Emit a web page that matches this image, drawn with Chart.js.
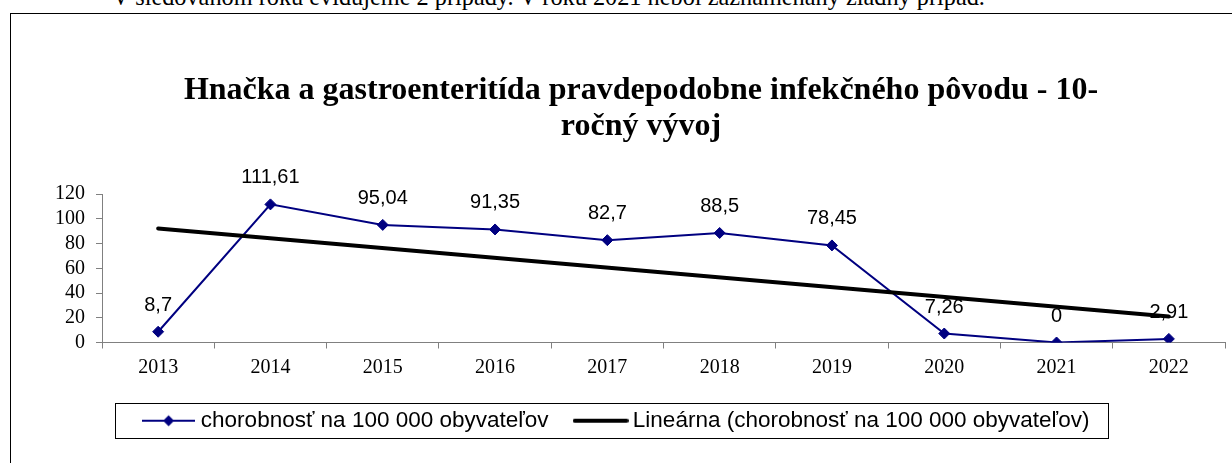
<!DOCTYPE html>
<html>
<head>
<meta charset="utf-8">
<script src="https://cdn.jsdelivr.net/npm/chart.js@4"></script>
<style>
  html, body { margin: 0; padding: 0; background: #fff; overflow: hidden; }
  #wrap { position: relative; width: 1232px; height: 463px; overflow: hidden; }
  #note { position: absolute; left: 112px; top: -15px; white-space: nowrap;
          font: 24.3px "Liberation Serif", "Times New Roman", serif; line-height: 24px; color: #000; }
  #frame { position: absolute; left: 10px; top: 13px; width: 1300px; height: 520px; border: 1px solid #000; }
  #chart { position: absolute; left: 0; top: 0; }
</style>
</head>
<body>
<div id="wrap">
  <div id="note">V sledovanom roku evidujeme 2 prípady. V roku 2021 nebol zaznamenaný žiadny prípad.</div>
  <div id="frame"></div>
  <canvas id="chart" width="1232" height="463"></canvas>
</div>
<script>
// ===============================
//  DATA
// ===============================
const years = ["2013", "2014", "2015", "2016", "2017", "2018", "2019", "2020", "2021", "2022"];
const incidence = [8.7, 111.61, 95.04, 91.35, 82.7, 88.5, 78.45, 7.26, 0, 2.91];
// trend line: only its two ends
const trendLine = [92.2, null, null, null, null, null, null, null, null, 21.1];
const yMin = 0, yMax = 120, yStep = 20;
const titleLines = ["Hnačka a gastroenteritída pravdepodobne infekčného pôvodu - 10-", "ročný vývoj"];
const seriesName = "chorobnosť na 100 000 obyvateľov";
const trendName = "Lineárna (chorobnosť na 100 000 obyvateľov)";

const NAVY = "#000080";

// ===============================
//  LEGEND ICONS
// ===============================
function seriesIcon() {
  const c = document.createElement("canvas");
  c.width = 53; c.height = 14;
  const g = c.getContext("2d");
  g.strokeStyle = NAVY; g.lineWidth = 2;
  g.beginPath(); g.moveTo(0, 7); g.lineTo(53, 7); g.stroke();
  g.fillStyle = NAVY;
  g.beginPath(); g.moveTo(26.5, 1.5); g.lineTo(32, 7); g.lineTo(26.5, 12.5); g.lineTo(21, 7); g.closePath(); g.fill();
  return c;
}
function trendIcon() {
  const c = document.createElement("canvas");
  c.width = 56; c.height = 8;
  const g = c.getContext("2d");
  g.strokeStyle = "#000"; g.lineWidth = 4; g.lineCap = "round";
  g.beginPath(); g.moveTo(2, 4); g.lineTo(54, 4); g.stroke();
  return c;
}

// ===============================
//  PLUGINS
// ===============================
const titlePlugin = {
  id: "titleLines",
  afterDraw(chart) {
    const ctx = chart.ctx;
    ctx.save();
    ctx.fillStyle = "#000";
    ctx.font = "bold 32px 'Liberation Serif', 'Times New Roman', serif";
    ctx.textAlign = "center";
    ctx.textBaseline = "alphabetic";
    ctx.fillText(titleLines[0], 641, 99);
    ctx.fillText(titleLines[1], 641, 135);
    ctx.restore();
  }
};

const valueLabels = {
  id: "valueLabels",
  afterDatasetDraw(chart, args) {
    if (args.index !== 0) return;
    const ctx = chart.ctx;
    ctx.save();
    ctx.fillStyle = "#000";
    ctx.font = "20px 'Liberation Sans', Arial, sans-serif";
    ctx.textAlign = "center";
    ctx.textBaseline = "alphabetic";
    args.meta.data.forEach((pt, i) => {
      ctx.fillText(String(incidence[i]).replace(".", ","), pt.x, pt.y - 21);
    });
    ctx.restore();
  }
};

const legendFrame = {
  id: "legendFrame",
  afterDraw(chart) {
    const hb = chart.legend.legendHitBoxes;
    if (!hb || !hb.length) return;
    const last = hb[hb.length - 1];
    const left = Math.round(hb[0].left - 32.5);
    const right = Math.round(last.left + last.width + 19);
    const cy = Math.round(hb[0].top + hb[0].height / 2);
    const ctx = chart.ctx;
    ctx.save();
    ctx.strokeStyle = "#000";
    ctx.lineWidth = 1;
    ctx.strokeRect(left + 0.5, cy - 17.5, right - left, 35);
    ctx.restore();
  }
};

// ===============================
//  CHART
// ===============================
new Chart(document.getElementById("chart"), {
  type: "line",
  data: {
    labels: years,
    datasets: [{
      label: seriesName,
      data: incidence,
      borderColor: NAVY,
      backgroundColor: NAVY,
      borderWidth: 2,
      pointStyle: "rectRot",
      pointRadius: 5.5,
      pointBorderWidth: 1,
      tension: 0,
      order: 1
    }, {
      label: trendName,
      data: trendLine,
      borderColor: "#000",
      borderWidth: 4,
      borderCapStyle: "round",
      pointRadius: 0,
      spanGaps: true,
      order: 0
    }]
  },
  options: {
    responsive: false,
    animation: false,
    layout: { padding: { left: 12, right: 7, top: 194, bottom: 21 } },
    plugins: {
      title: { display: false },
      tooltip: { enabled: false },
      legend: {
        position: "bottom",
        labels: {
          usePointStyle: true,
          pointStyleWidth: 42,
          boxHeight: 14,
          padding: 31,
          color: "#000",
          font: { family: "'Liberation Sans', Arial, sans-serif", size: 22.5 },
          generateLabels: () => [
            { text: seriesName, pointStyle: seriesIcon(), fillStyle: NAVY, strokeStyle: NAVY, lineWidth: 0, hidden: false, datasetIndex: 0 },
            { text: trendName, pointStyle: trendIcon(), fillStyle: "#000", strokeStyle: "#000", lineWidth: 0, hidden: false, datasetIndex: 1 }
          ]
        }
      }
    },
    scales: {
      x: {
        offset: true,
        afterFit: s => { s.height = 36; },
        grid: { offset: true, drawOnChartArea: false, drawTicks: true, tickLength: 6, color: "#808080" },
        border: { color: "#808080" },
        ticks: { color: "#000", padding: 7, font: { family: "'Liberation Serif', 'Times New Roman', serif", size: 20 } }
      },
      y: {
        min: yMin,
        max: yMax,
        afterFit: s => { s.width = 90; },
        grid: { drawOnChartArea: false, drawTicks: true, tickLength: 6, color: "#808080" },
        border: { color: "#808080" },
        ticks: { stepSize: yStep, autoSkip: false, color: "#000", padding: 11, font: { family: "'Liberation Serif', 'Times New Roman', serif", size: 20 } }
      }
    }
  },
  plugins: [titlePlugin, valueLabels, legendFrame]
});
</script>
</body>
</html>
